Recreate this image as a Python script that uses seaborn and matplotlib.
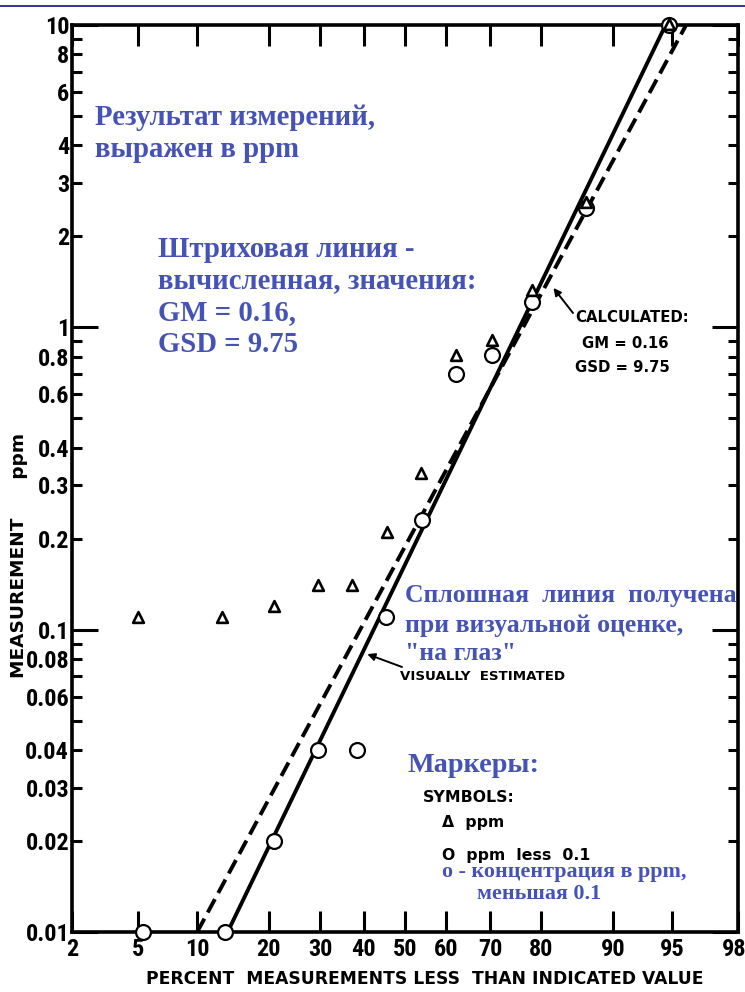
import numpy as np
import matplotlib
matplotlib.use('Agg')
import matplotlib.pyplot as plt
import seaborn as sns
from matplotlib import ticker, font_manager
from matplotlib.lines import Line2D
from matplotlib.transforms import ScaledTranslation
from statistics import NormalDist

# точки: треугольники - ppm, кружки - ppm less 0.1
pct_tri = [5, 12.9, 21, 29.5, 37.2, 45.5, 54, 62.3, 70.4, 78.3, 86.8, 94.8]
ppm_tri = [0.11, 0.11, 0.12, 0.14, 0.14, 0.21, 0.33, 0.81, 0.91, 1.33, 2.6, 10.1]
pct_circ = [5.3, 13.3, 21, 29.5, 38.4, 45.3, 54.2, 62.3, 70.4, 78.3, 86.8, 94.8]
ppm_circ = [0.01, 0.01, 0.02, 0.04, 0.04, 0.11, 0.23, 0.70, 0.81, 1.21, 2.48, 10]

# линии: сплошная (на глаз) и штриховая (вычисленная)
visual_pct = [13.7, 94.6]
visual_ppm = [0.01, 10]
calc_pct = [10, 95.85]
calc_ppm = [0.01, 10]

x_ticks = [2, 5, 10, 20, 30, 40, 50, 60, 70, 80, 90, 95, 98]
y_major = [0.01, 0.1, 1, 10]
y_minor = [k * 10.0 ** e for e in (-2, -1, 0) for k in range(2, 10)]
y_labels = {0.01: '0.01', 0.02: '0.02', 0.03: '0.03', 0.04: '0.04', 0.06: '0.06',
            0.08: '0.08', 0.1: '0.1', 0.2: '0.2', 0.3: '0.3', 0.4: '0.4', 0.6: '0.6',
            0.8: '0.8', 1: '1', 2: '2', 3: '3', 4: '4', 6: '6', 8: '8', 10: '10'}

BLUE = '#4552b6'

sns.set_style('white')

# узкий жирный шрифт для подписей делений, если есть
cond_fam, cond_stretch, tick_size = 'DejaVu Sans', 'normal', 14
narrow = ('condensed', 'semi-condensed', 'extra-condensed', 'ultra-condensed')
for fam in ['Liberation Sans Narrow', 'Roboto Condensed', 'Open Sans Condensed',
            'Noto Sans', 'DejaVu Sans', 'Open Sans', 'Roboto', 'Inter', 'Lato',
            'Noto Sans Display']:
    hits = [f for f in font_manager.fontManager.ttflist
            if f.name == fam and (f.stretch in narrow or 'Narrow' in fam)]
    if hits:
        cond_fam, cond_stretch, tick_size = fam, hits[0].stretch, 17.5
        if cond_stretch == 'normal':
            cond_stretch = 'condensed'
        break

plt.rcParams['font.family'] = [cond_fam, 'DejaVu Sans']
plt.rcParams['font.weight'] = 'bold'
plt.rcParams['font.stretch'] = cond_stretch
plt.rcParams['text.color'] = 'black'
plt.rcParams['axes.labelcolor'] = 'black'
plt.rcParams['xtick.color'] = 'black'
plt.rcParams['ytick.color'] = 'black'

nd = NormalDist()
_ppf = np.vectorize(nd.inv_cdf, otypes=[float])
_cdf = np.vectorize(nd.cdf, otypes=[float])


def prob_fwd(p):
    p = np.clip(np.asarray(p, dtype=float) / 100.0, 1e-9, 1 - 1e-9)
    return _ppf(p)


def prob_inv(z):
    return _cdf(np.asarray(z, dtype=float)) * 100.0


fig = plt.figure(figsize=(7.45, 9.92), dpi=100)
ax = fig.add_axes([72 / 745, 60 / 992, 666 / 745, 907 / 992])
ax.set_xscale('function', functions=(prob_fwd, prob_inv))
ax.set_yscale('log')

sns.lineplot(x=visual_pct, y=visual_ppm, color='black', lw=2.8, sort=False, ax=ax, zorder=2)
sns.lineplot(x=calc_pct, y=calc_ppm, color='black', lw=2.8, sort=False, ax=ax, zorder=2,
             linestyle=(0, (3.9, 1.8)))
sns.scatterplot(x=pct_circ, y=ppm_circ, marker='o', s=115, facecolor='white',
                edgecolor='black', linewidth=1.6, ax=ax, zorder=4, clip_on=False)
sns.scatterplot(x=pct_tri, y=ppm_tri, marker='^', s=60, facecolor='white',
                edgecolor='black', linewidth=1.9, ax=ax, zorder=5, clip_on=False)

ax.set_xlim(2, 98)
ax.set_ylim(0.01, 10)
ax.xaxis.set_major_locator(ticker.FixedLocator(x_ticks))
ax.xaxis.set_major_formatter(ticker.FixedFormatter([str(t) for t in x_ticks]))
ax.xaxis.set_minor_locator(ticker.NullLocator())
ax.yaxis.set_major_locator(ticker.FixedLocator(y_major))
ax.yaxis.set_minor_locator(ticker.FixedLocator(y_minor))
fmt = ticker.FuncFormatter(lambda v, pos: y_labels.get(round(v, 4) if v < 1 else round(v), ''))
ax.yaxis.set_major_formatter(fmt)
ax.yaxis.set_minor_formatter(fmt)

for s in ax.spines.values():
    s.set_visible(True)
    s.set_linewidth(2.6)
    s.set_color('black')
ax.tick_params(axis='x', which='major', direction='in', length=15, width=2.2,
               top=True, bottom=True, pad=4, labelsize=tick_size, labelcolor='black')
ax.tick_params(axis='y', which='major', direction='in', length=19, width=2.2,
               left=True, right=True, pad=2, labelsize=tick_size, labelcolor='black')
ax.tick_params(axis='y', which='minor', direction='in', length=7.5, width=2.2,
               left=True, right=True, pad=2, labelsize=tick_size, labelcolor='black')

# подпись "98" у самого края - чуть сдвинуть влево
lab98 = ax.xaxis.get_major_ticks()[-1].label1
lab98.set_transform(lab98.get_transform() + ScaledTranslation(-3 / 72, 0, fig.dpi_scale_trans))

ax.set_xlabel('PERCENT  MEASUREMENTS LESS  THAN INDICATED VALUE', fontsize=12.3,
              family='DejaVu Sans', fontstretch='normal', fontweight='bold')
ax.xaxis.set_label_coords(0.53, -0.042)
ax.set_ylabel('MEASUREMENT      ppm', fontsize=13.3, family='DejaVu Sans',
              fontstretch='normal', fontweight='bold')
ax.yaxis.set_label_coords(-0.066, 0.415)


def ftext(x, y, s, **kw):
    fig.text(x / 745, 1 - y / 992, s, va='baseline', ha='left', **kw)


serif = dict(color=BLUE, family='Liberation Serif', weight='bold', fontstretch='normal')
ftext(95, 125, 'Результат измерений,', fontsize=20.7, **serif)
ftext(95, 157, 'выражен в ppm', fontsize=20.7, **serif)
for y, s in zip([257, 288, 320, 352],
                ['Штриховая линия -', 'вычисленная, значения:', 'GM = 0.16,', 'GSD = 9.75']):
    ftext(158, y, s, fontsize=20.7, **serif)
for y, s in zip([602, 632, 660],
                ['Сплошная  линия  получена', 'при визуальной оценке,', '"на глаз"']):
    ftext(405, y, s, fontsize=18.5, **serif)
ftext(408, 772, 'Маркеры:', fontsize=20.3, **serif)
ftext(442, 877, 'о - концентрация в ppm,', fontsize=15.8, **serif)
ftext(477, 899, 'меньшая 0.1', fontsize=15.8, **serif)

sans = dict(color='black', family='DejaVu Sans', weight='bold', fontstretch='normal')
ftext(575, 322, 'CALCULATED:', fontsize=10.7, **sans)
ftext(582, 348, 'GM = 0.16', fontsize=10.7, **sans)
ftext(575, 372, 'GSD = 9.75', fontsize=10.7, **sans)
ftext(400, 680, 'VISUALLY  ESTIMATED', fontsize=9.6, **sans)
ftext(423, 802, 'SYMBOLS:', fontsize=11.3, **sans)
ftext(442, 827, 'Δ  ppm', fontsize=11.3, **sans)
ftext(442, 860, 'O  ppm  less  0.1', fontsize=11.3, **sans)

arrow = dict(arrowstyle='-|>', color='black', lw=1.4, mutation_scale=11, shrinkA=0, shrinkB=0)
ax.annotate('', xy=(82, 1.35), xycoords='data', xytext=(573, 992 - 313),
            textcoords='figure pixels', arrowprops=arrow)
ax.annotate('', xy=(40.8, 0.083), xycoords='data', xytext=(402, 992 - 667),
            textcoords='figure pixels', arrowprops=arrow)

fig.add_artist(Line2D([0, 1], [1 - 6 / 992] * 2, transform=fig.transFigure,
                      color='#2020a0', lw=1.3))

fig.savefig('out.png', dpi=100)
